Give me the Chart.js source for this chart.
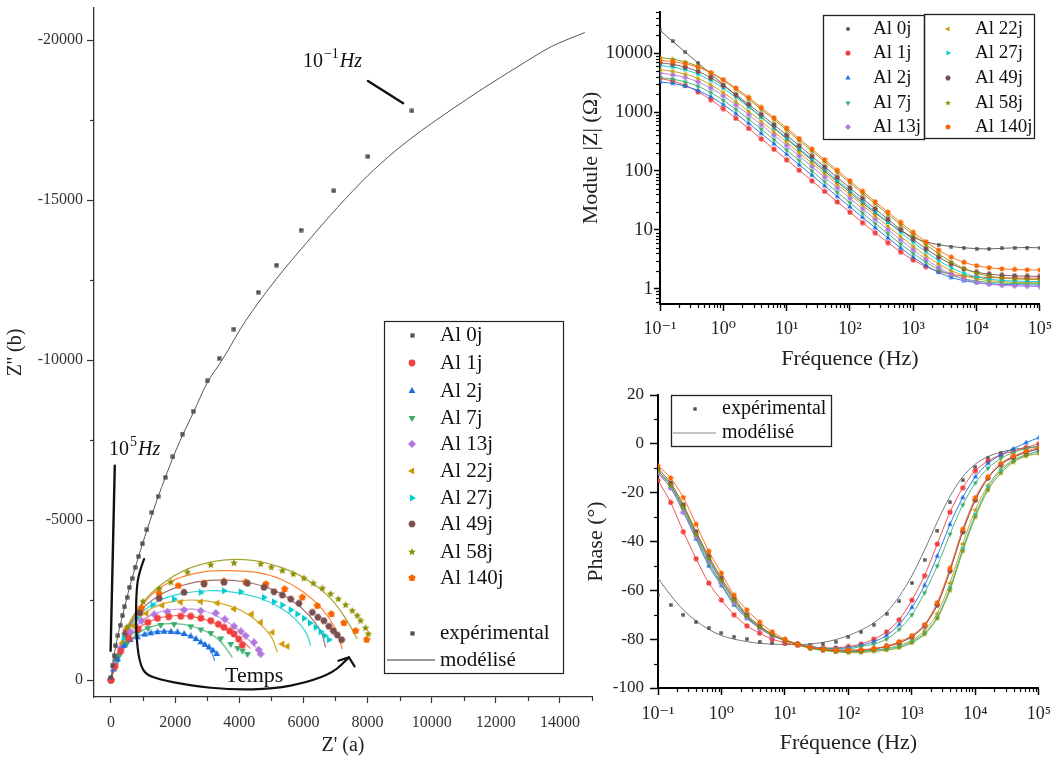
<!DOCTYPE html>
<html>
<head>
<meta charset="utf-8">
<script src="https://cdn.jsdelivr.net/npm/chart.js@4.4.0/dist/chart.umd.min.js"></script>
<style>
html,body{margin:0;padding:0;background:#fff;}
#wrap{position:relative;width:1059px;height:760px;overflow:hidden;background:#fff;}
canvas{position:absolute;}
#nyq{left:0;top:0;}
#mod{left:580px;top:0;}
#pha{left:580px;top:380px;}
</style>
</head>
<body>
<div id="wrap">
  <canvas id="nyq" width="600" height="760"></canvas>
  <canvas id="mod" width="479" height="380"></canvas>
  <canvas id="pha" width="479" height="380"></canvas>
</div>
<script>
/* ====== DATA : Nyquist (Z' , Z'') ====== */
const nyqExp0j = [[0,-84],[47,-447],[97,-759],[143,-1072],[215,-1384],[287,-1718],[358,-2009],[418,-2290],[502,-2584],[573,-2896],[657,-3177],[751,-3521],[860,-3864],[978,-4258],[1122,-4695],[1278,-5239],[1468,-5739],[1695,-6332],[1932,-6976],[2231,-7685],[2564,-8394],[3007,-9350],[3375,-10050],[3830,-10965],[4593,-12112],[5163,-12965],[5927,-14058],[6952,-15286],[8014,-16360],[9385,-17785]];
const nyqFit0j = [[0,0],[97,-760],[215,-1390],[358,-2010],[502,-2590],[657,-3180],[860,-3860],[1122,-4690],[1468,-5720],[1932,-6950],[2231,-7650],[2564,-8350],[3007,-9300],[3484,-10028],[4197,-11225],[5151,-12527],[6107,-13674],[7061,-14767],[8014,-15768],[8849,-16520],[9685,-17172],[10579,-17798],[11592,-18477],[12663,-19152],[13738,-19797],[14776,-20234]];
const nyqExp1j = [[0,0],[120,-420],[300,-900],[550,-1300],[850,-1600],[1150,-1800],[1449,-1927],[1800,-1980],[2175,-1990],[2487,-1990],[2800,-1930],[3110,-1853],[3350,-1740],[3524,-1646],[3700,-1530],[3836,-1437],[3980,-1280],[4097,-1093]];
const nyqFit1j = [[0,0],[120,-420],[300,-900],[600,-1380],[1000,-1720],[1500,-1940],[2000,-2010],[2500,-1990],[3000,-1870],[3500,-1640],[3900,-1350],[4200,-1130],[4350,-980]];
const nyqExp2j = [[0,0],[80,-330],[200,-650],[408,-1072],[600,-1250],[826,-1334],[1050,-1420],[1240,-1459],[1450,-1495],[1655,-1509],[1870,-1505],[2072,-1490],[2280,-1440],[2487,-1365],[2650,-1280],[2798,-1178],[2930,-1100],[3057,-1022],[3180,-920],[3297,-812]];
const nyqFit2j = [[0,0],[100,-380],[300,-850],[600,-1230],[1000,-1430],[1500,-1520],[2000,-1500],[2500,-1360],[2900,-1130],[3100,-930],[3234,-603]];
const nyqExp7j = [[0,0],[100,-380],[250,-750],[500,-1150],[800,-1450],[1150,-1620],[1550,-1720],[1966,-1749],[2487,-1678],[2800,-1580],[3110,-1468],[3420,-1300],[3733,-1125],[3950,-1000],[4100,-920],[4253,-812]];
const nyqFit7j = [[0,0],[100,-380],[300,-820],[600,-1250],[1000,-1560],[1500,-1730],[2000,-1760],[2500,-1690],[3000,-1500],[3400,-1220],[3786,-709]];
const nyqExp13j = [[0,0],[120,-480],[300,-1000],[600,-1500],[950,-1850],[1350,-2050],[1760,-2134],[2278,-2187],[2798,-2165],[3265,-2093],[3550,-1900],[3836,-1678],[4050,-1520],[4200,-1384],[4459,-1178],[4600,-950],[4668,-812]];
const nyqFit13j = [[0,0],[120,-480],[350,-1080],[700,-1600],[1100,-1950],[1600,-2150],[2200,-2220],[2800,-2180],[3300,-2000],[3800,-1700],[4200,-1350],[4512,-1022]];
const nyqExp22j = [[0,0],[130,-520],[350,-1150],[700,-1700],[1100,-2080],[1600,-2330],[2175,-2427],[2798,-2446],[3318,-2405],[3836,-2218],[4387,-2062],[4668,-1802],[5032,-1490],[5344,-1125],[5500,-1053]];
const nyqFit22j = [[0,0],[130,-520],[400,-1250],[800,-1850],[1300,-2250],[1900,-2450],[2600,-2500],[3300,-2420],[4000,-2200],[4600,-1800],[5000,-1350],[5188,-865]];
const nyqExp27j = [[0,0],[140,-560],[400,-1300],[800,-1950],[1300,-2350],[1966,-2530],[2798,-2740],[3524,-2790],[4045,-2759],[4771,-2583],[5082,-2446],[5344,-2343],[5603,-2196],[5811,-2062],[6017,-1928],[6204,-1781],[6382,-1646],[6537,-1509],[6671,-1384],[6796,-1259]];
const nyqFit27j = [[0,0],[140,-560],[450,-1400],[900,-2050],[1500,-2480],[2200,-2700],[3000,-2790],[3800,-2750],[4600,-2570],[5300,-2250],[5800,-1850],[6100,-1450],[6226,-1072]];
const nyqExp49j = [[0,0],[150,-600],[450,-1450],[900,-2100],[1500,-2550],[2278,-2740],[2901,-2999],[3524,-3052],[4253,-3021],[4771,-2896],[5082,-2759],[5344,-2655],[5603,-2530],[5862,-2396],[6279,-2115],[6453,-1959],[6640,-1853],[6796,-1678],[6933,-1540],[7058,-1406],[7192,-1259]];
const nyqFit49j = [[0,0],[150,-600],[500,-1550],[1000,-2250],[1700,-2750],[2500,-3030],[3300,-3120],[4100,-3080],[4900,-2880],[5600,-2520],[6200,-2000],[6550,-1500],[6693,-1022]];
const nyqExp58j = [[0,0],[170,-700],[500,-1650],[1000,-2450],[1500,-2850],[1863,-3052],[2384,-3365],[3110,-3593],[3836,-3655],[4668,-3624],[5001,-3521],[5344,-3415],[5687,-3311],[6017,-3177],[6310,-3021],[6590,-2865],[6849,-2687],[7089,-2530],[7316,-2343],[7525,-2165],[7681,-2009],[7784,-1853],[7940,-1624],[8024,-1437]];
const nyqFit58j = [[0,0],[170,-700],[550,-1750],[1100,-2550],[1800,-3150],[2600,-3550],[3500,-3750],[4400,-3740],[5300,-3520],[6100,-3150],[6800,-2600],[7300,-1950],[7681,-1281]];
const nyqExp140j = [[0,0],[160,-650],[480,-1550],[950,-2250],[1500,-2700],[2100,-2950],[2901,-3030],[3524,-3083],[4200,-3060],[4830,-3000],[5415,-2843],[5967,-2583],[6434,-2321],[6871,-2062],[7264,-1781],[7628,-1540],[7971,-1259]];
const nyqFit140j = [[0,0],[160,-650],[550,-1700],[1100,-2500],[1800,-3050],[2700,-3350],[3600,-3420],[4500,-3370],[5300,-3150],[6000,-2750],[6600,-2200],[7000,-1600],[7213,-968]];

/* ====== DATA : Bode ====== */
const freqHz = [0.1,0.158,0.251,0.398,0.631,1,1.58,2.51,3.98,6.31,10,15.8,25.1,39.8,63.1,100,158,251,398,631,1000,1580,2510,3980,6310,10000,15800,25100,39800,63100,100000];

const modAl0j = [24300,15910,10410,6818,4463,2921,1912,1252,820,537,351,230,150.5,98.5,65.3,43.1,28.6,19.3,13.4,9.68,7.49,6.25,5.6,5.2,4.95,4.8,4.75,4.85,4.95,5.0,4.95];
const modAl1j = [3733,3355,2828,2216,1629,1145,783,527,352,233.9,155.2,102.8,68.0,44.9,29.87,19.9,13.26,8.91,6.07,4.23,3.08,2.38,1.98,1.76,1.64,1.58,1.545,1.527,1.515,1.51,1.506];
const modAl2j = [3261,3064,2753,2321,1819,1338,940,643,433,289,192,127,84.4,55.8,36.8,24.5,16.3,10.84,7.28,4.94,3.43,2.48,1.90,1.55,1.37,1.27,1.214,1.187,1.168,1.16,1.155];
const modAl7j = [3851,3620,3253,2742,2148,1580,1110,759,511,341,227,150.5,99.6,65.9,43.5,28.9,19.2,12.8,8.56,5.79,3.99,2.84,2.13,1.71,1.475,1.348,1.282,1.247,1.227,1.214,1.208];
const modAl13j = [4580,4305,3869,3262,2556,1879,1321,903,608,406,270,179,118.5,78.4,51.8,34.4,22.8,15.14,10.09,6.77,4.60,3.19,2.31,1.77,1.454,1.282,1.19,1.141,1.115,1.1,1.09];
const modAl22j = [5227,4912,4415,3721,2916,2145,1507,1030,694,463,308,204,135.2,89.5,59.1,39.2,26.3,17.28,11.52,7.73,5.25,3.66,2.64,2.03,1.675,1.478,1.374,1.319,1.29,1.273,1.263];
const modAl27j = [6178,5806,5218,4398,3446,2535,1781,1217,820,548,364,241.5,159.8,105.8,69.8,46.2,30.7,20.35,13.57,9.09,6.15,4.24,3.02,2.27,1.834,1.588,1.456,1.386,1.349,1.329,1.317];
const modAl49j = [6871,6458,5803,4892,3833,2819,1981,1354,912,609,405,268.6,177.8,117.6,77.6,51.5,34.2,22.7,15.14,10.15,6.89,4.79,3.45,2.64,2.165,1.905,1.766,1.692,1.653,1.631,1.619];
const modAl58j = [8403,7898,7098,5983,4688,3447,2423,1656,1115,745,495,328.5,217.4,143.9,95.0,62.9,41.6,27.6,18.36,12.25,8.24,5.61,3.92,2.86,2.21,1.839,1.636,1.529,1.473,1.442,1.425];
const modAl140j = [7518,7180,6609,5769,4678,3557,2553,1767,1197,802,535,354.9,235,155.6,102.7,68.0,45.1,30.0,20.0,13.4,9.09,6.30,4.53,3.44,2.81,2.46,2.27,2.173,2.12,2.092,2.075];

const phaseAl0j = [-62,-66,-70,-73,-75.5,-77.5,-79,-80,-81,-81.5,-82,-82.3,-82.3,-82,-81,-79,-77,-74,-69.5,-64.5,-57,-47.5,-35.5,-24,-15,-9.5,-5.8,-3.8,-2.6,-1.8,-1.3];
const phaseFitAl0j = [-55,-62,-68,-72.5,-76,-78.5,-80,-81,-81.7,-82,-82.2,-82.2,-82,-81.3,-80.2,-78.5,-76.3,-73.3,-69,-62.5,-54,-43.5,-32,-21.5,-13.5,-8.3,-5.2,-3.4,-2.3,-1.6,-1.2];
const phaseAl1j = [-15,-24,-36,-47,-57,-64,-70,-74.5,-77.5,-80,-81.5,-82.5,-83.2,-83.6,-83.6,-83,-82,-80,-77,-72,-64,-54,-41,-28,-18,-11,-7,-4.5,-3,-1.5,0];
const phaseAl2j = [-12,-18,-28,-39,-50,-58,-66,-71.5,-75.5,-78.5,-80.5,-82,-83,-83.6,-83.8,-83.5,-82.5,-81,-78.5,-74,-67,-58,-46,-33,-22,-13.5,-8,-4.5,-2,0.5,2.5];
const phaseAl7j = [-11,-17,-27,-38,-49,-57.5,-65.5,-71,-75.5,-78.5,-80.5,-82,-83,-83.7,-84,-84,-83,-82,-80,-76,-70,-61,-50,-37,-25,-16,-10,-6,-3.5,-2,-1];
const phaseAl13j = [-12,-18,-28,-38,-48,-57,-65,-71,-75.5,-78.5,-80.5,-82,-83.2,-84,-84.5,-84.5,-84.5,-84,-83,-81.5,-79,-74.5,-66,-52,-36,-23,-14,-8.5,-5.5,-3.5,-2];
const phaseAl22j = [-11,-17,-26,-37,-47,-56,-64,-70.5,-75,-78,-80.5,-82,-83.5,-84.3,-84.8,-85,-85,-84.5,-83.8,-82.5,-80.5,-76.5,-69.5,-57,-41,-27,-17,-10.5,-6.5,-4.5,-3];
const phaseAl27j = [-11,-17,-26,-37,-47,-56,-64,-70.5,-75,-78,-80.5,-82,-83.5,-84.3,-84.8,-85,-85,-84.5,-84,-83,-81,-77.5,-71,-59,-43,-29,-18,-11,-7,-4.5,-3];
const phaseAl49j = [-10,-16,-25,-36,-46,-55,-63,-70,-74.5,-78,-80.5,-82,-83.5,-84.3,-84.7,-84.8,-84.7,-84,-83,-81.5,-79,-74.5,-66,-52,-36,-23,-14,-8.5,-5.5,-3.5,-2];
const phaseAl58j = [-11,-17,-26,-37,-47,-56,-64,-70.5,-75,-78,-80.5,-82.3,-83.8,-84.6,-85.2,-85.5,-85.5,-85,-84.5,-83.5,-81.5,-78,-71.5,-60,-44,-30,-19,-12,-7.5,-5,-4];
const phaseAl140j = [-9,-14,-22,-33,-44,-53,-62,-68,-73,-77,-80,-82,-83.3,-84,-84.5,-84.5,-84.3,-83.8,-82.8,-81,-78.5,-74,-65,-51,-35,-22,-13.5,-8,-5,-3,-1.5];

/* ====== TICKS ====== */
const nyqXTicks = [0,2000,4000,6000,8000,10000,12000,14000];
const nyqXMinor = [1000,3000,5000,7000,9000,11000,13000,15000];
const nyqYTicks = [0,-5000,-10000,-15000,-20000];
const nyqYMinor = [-2500,-7500,-12500,-17500];
const freqTicks = [0.1,1,10,100,1000,10000,100000];
const freqTickLabels = ["10\u207B\u00B9","10\u2070","10\u00B9","10\u00B2","10\u00B3","10\u2074","10\u2075"];
const modYTicks = [1,10,100,1000,10000];
const phaseYTicks = [20,0,-20,-40,-60,-80,-100];
const phaseYMinor = [10,-10,-30,-50,-70,-90];

/* ====== STYLE ====== */
const SERIF = "'Liberation Serif','DejaVu Serif',serif";
const NAMES  = ["Al 0j","Al 1j","Al 2j","Al 7j","Al 13j","Al 22j","Al 27j","Al 49j","Al 58j","Al 140j"];
const COLORS = ["#515151","#F14040","#1A6FDF","#37AD6B","#B177DE","#CC9900","#00CBCC","#7D4E4E","#8E8E00","#FB6501"];
const SHAPES = ["square","circle","up","down","diamond","left","right","hexagon","star","pentagon"];

function rgba(hex, a){
  const n = parseInt(hex.slice(1), 16);
  return `rgba(${n>>16},${(n>>8)&255},${n&255},${a})`;
}
function marker(shape, color, size){
  const c = document.createElement("canvas"); c.width = c.height = size;
  const g = c.getContext("2d"); const r = size/2;
  g.translate(r, r); g.fillStyle = color; g.beginPath();
  const poly = (n, rot, rr) => {
    for (let k=0;k<n;k++){ const a = rot + k*2*Math.PI/n; k ? g.lineTo(rr*Math.cos(a), rr*Math.sin(a)) : g.moveTo(rr*Math.cos(a), rr*Math.sin(a)); }
    g.closePath();
  };
  switch(shape){
    case "square":  g.rect(-r*0.85,-r*0.85,r*1.7,r*1.7); break;
    case "circle":  g.arc(0,0,r*0.85,0,2*Math.PI); break;
    case "up":      poly(3,-Math.PI/2,r); break;
    case "down":    poly(3, Math.PI/2,r); break;
    case "left":    poly(3, Math.PI,r); break;
    case "right":   poly(3, 0,r); break;
    case "diamond": poly(4,-Math.PI/2,r); break;
    case "hexagon": poly(6,0,r*0.92); break;
    case "pentagon":poly(5,-Math.PI/2,r*0.95); break;
    case "star":
      for (let k=0;k<10;k++){ const a = -Math.PI/2 + k*Math.PI/5, rr = k%2 ? r*0.45 : r; k ? g.lineTo(rr*Math.cos(a), rr*Math.sin(a)) : g.moveTo(rr*Math.cos(a), rr*Math.sin(a)); }
      g.closePath(); break;
  }
  g.fill();
  return c;
}

/* ====== PLUGINS ====== */
function minorTicks(id, axes){
  return { id, afterDraw(chart){
    const ctx = chart.ctx; ctx.save();
    axes.forEach(a => {
      const sc = chart.scales[a.id];
      ctx.strokeStyle = a.color; ctx.lineWidth = a.width;
      a.values.forEach(v => {
        if (v < sc.min || v > sc.max) return;
        const p = Math.round(sc.getPixelForValue(v)) + 0.5;
        ctx.beginPath();
        if (sc.isHorizontal()){ ctx.moveTo(p, sc.top); ctx.lineTo(p, sc.top + a.len); }
        else { ctx.moveTo(sc.right, p); ctx.lineTo(sc.right - a.len, p); }
        ctx.stroke();
      });
    });
    ctx.restore();
  }};
}
function boxLegend(id, cfg){
  return { id, afterDraw(chart){
    const ctx = chart.ctx; ctx.save();
    ctx.strokeStyle = "#222"; ctx.lineWidth = cfg.lineWidth;
    cfg.boxes.forEach(b => ctx.strokeRect(b[0]+0.5, b[1]+0.5, b[2], b[3]));
    ctx.font = cfg.font; ctx.textBaseline = "middle"; ctx.textAlign = "left";
    cfg.items.forEach(it => {
      if (it.line){ ctx.strokeStyle = it.line; ctx.lineWidth = 1; ctx.beginPath(); ctx.moveTo(it.lx[0], it.y); ctx.lineTo(it.lx[1], it.y); ctx.stroke(); }
      else ctx.drawImage(it.img, Math.round(it.mx - it.img.width/2), Math.round(it.y - it.img.height/2));
      ctx.fillStyle = "#111"; ctx.fillText(it.text, it.tx, it.y);
    });
    ctx.restore();
  }};
}

/* Nyquist annotations, placed in data units */
const lead01Hz  = [[8014,-18722],[9111,-18025]];
const lead1e5Hz = [[118,-6695],[-12,-915]];
const label01Hz  = [5986,-19141];
const label1e5Hz = [-59,-7029];
const tempsAt = [4465,-134];
const tempsArrow = [[1031,-3780],[876,-3365],[795,-2843],[773,-1802],[826,-968],[929,-447],[1084,-187],[1449,-31],[2487,178],[3733,303],[5082,281],[6123,72],[6952,-241],[7420,-709]];
const tempsHead = [[7090,-603],[7420,-709],[7597,-428]];

const nyqNotes = { id:"nyqNotes", afterDatasetsDraw(chart){
  const {ctx, scales:{x, y}} = chart;
  const P = p => [x.getPixelForValue(p[0]), y.getPixelForValue(p[1])];
  ctx.save();
  ctx.strokeStyle = "#111"; ctx.lineWidth = 2.4; ctx.lineCap = "round"; ctx.lineJoin = "round";
  [lead01Hz, lead1e5Hz].forEach(s => { const a = P(s[0]), b = P(s[1]); ctx.beginPath(); ctx.moveTo(a[0],a[1]); ctx.lineTo(b[0],b[1]); ctx.stroke(); });
  const pts = tempsArrow.map(P);
  ctx.lineWidth = 2.2; ctx.beginPath(); ctx.moveTo(pts[0][0], pts[0][1]);
  for (let i=1;i<pts.length-1;i++){ ctx.quadraticCurveTo(pts[i][0], pts[i][1], (pts[i][0]+pts[i+1][0])/2, (pts[i][1]+pts[i+1][1])/2); }
  ctx.lineTo(pts[pts.length-1][0], pts[pts.length-1][1]); ctx.stroke();
  const hd = tempsHead.map(P);
  ctx.beginPath(); ctx.moveTo(hd[0][0],hd[0][1]); ctx.lineTo(hd[1][0],hd[1][1]); ctx.lineTo(hd[2][0],hd[2][1]); ctx.stroke();
  ctx.fillStyle = "#111"; ctx.textBaseline = "alphabetic"; ctx.textAlign = "left";
  const hz = (p, sup) => {
    let [px, py] = P(p);
    ctx.font = "20px " + SERIF; ctx.fillText("10", px, py); px += ctx.measureText("10").width + 1;
    ctx.font = "14px " + SERIF; ctx.fillText(sup, px, py - 9); px += ctx.measureText(sup).width + 1;
    ctx.font = "italic 20px " + SERIF; ctx.fillText("Hz", px, py);
  };
  hz(label01Hz, "\u22121"); hz(label1e5Hz, "5");
  ctx.font = "22px " + SERIF; ctx.textAlign = "center"; ctx.textBaseline = "middle";
  const t = P(tempsAt); ctx.fillText("Temps", t[0], t[1]);
  ctx.restore();
}};

/* ====== BUILD ====== */
Chart.defaults.font.family = SERIF;
const xy  = a => a.map(p => ({x:p[0], y:p[1]}));
const fxy = v => freqHz.map((f,i) => ({x:f, y:v[i]}));
const base = {
  responsive:false, animation:false, events:[],
  plugins:{legend:{display:false}, tooltip:{enabled:false}}
};
const noVPad = s => { s.paddingTop = 0; s.paddingBottom = 0; };

// Nyquist
const nyqExp = [nyqExp0j,nyqExp1j,nyqExp2j,nyqExp7j,nyqExp13j,nyqExp22j,nyqExp27j,nyqExp49j,nyqExp58j,nyqExp140j];
const nyqFit = [nyqFit0j,nyqFit1j,nyqFit2j,nyqFit7j,nyqFit13j,nyqFit22j,nyqFit27j,nyqFit49j,nyqFit58j,nyqFit140j];
const nyqMarks = NAMES.map((n,i) => marker(SHAPES[i], COLORS[i], i ? 8 : 5));
const nyqSets = [];
NAMES.forEach((n,i) => {
  nyqSets.push({label:n, data:xy(nyqExp[i]), showLine:false, pointStyle:nyqMarks[i], pointRadius:3, order:0});
  nyqSets.push({label:n+" fit", data:xy(nyqFit[i]), showLine:true, pointRadius:0, borderColor: i ? rgba(COLORS[i],0.8) : "#555", borderWidth: i ? 1.2 : 1, tension: i ? 0.4 : 0.3, order:1});
});
const nyqLegendItems = NAMES.map((n,i) => ({img:nyqMarks[i], mx:412, tx:440, y:[335,363,391,418,444,471,498,524,552,578][i], text:n}));
nyqLegendItems.push({img:marker("square",COLORS[0],5), mx:412, tx:440, y:633, text:"exp\u00E9rimental"});
nyqLegendItems.push({line:"#333", lx:[387,435], tx:440, y:660, text:"mod\u00E9lis\u00E9"});

new Chart(document.getElementById("nyq"), {
  type:"scatter",
  data:{datasets:nyqSets},
  options:{...base,
    layout:{padding:{left:0,right:8,top:8,bottom:0}, autoPadding:false},
    scales:{
      x:{type:"linear", position:"bottom", min:-530, max:15000, bounds:"data",
        afterBuildTicks: s => { s.ticks = nyqXTicks.map(v => ({value:v})); },
        afterFit: s => { s.height = 63; },
        grid:{drawOnChartArea:false, color:"#333", tickLength:6, tickWidth:1.2},
        border:{color:"#333", width:1.3},
        ticks:{font:{size:16}, color:"#333", padding:10, maxRotation:0, autoSkip:false, callback: v => String(v)},
        title:{display:true, text:"Z' (a)", font:{size:20}, color:"#222", padding:{top:0,bottom:2}}},
      y:{type:"linear", position:"left", min:-21000, max:530, reverse:true, bounds:"data",
        afterBuildTicks: s => { s.ticks = nyqYTicks.map(v => ({value:v})); },
        afterFit: s => { s.width = 94; noVPad(s); },
        grid:{drawOnChartArea:false, color:"#333", tickLength:7, tickWidth:1.2},
        border:{color:"#333", width:1.3},
        ticks:{font:{size:16}, color:"#333", padding:4, autoSkip:false, callback: v => String(v)},
        title:{display:true, text:"Z'' (b)", font:{size:20}, color:"#222", padding:{top:4,bottom:0}}}
    }
  },
  plugins:[
    minorTicks("nyqMinor", [{id:"x", values:nyqXMinor, len:4, color:"#333", width:1.2},{id:"y", values:nyqYMinor, len:4, color:"#333", width:1.2}]),
    nyqNotes,
    boxLegend("nyqLegend", {boxes:[[384,321,179,352]], lineWidth:1.2, font:"21px "+SERIF, items:nyqLegendItems})
  ]
});

// log minor ticks (axis decoration)
function logMinor(e0, e1){ const out = []; for (let e=e0; e<=e1; e++) for (let m=2; m<=9; m++) out.push(m*Math.pow(10,e)); return out; }
const freqMinor = logMinor(-1,4);
const modYMinor = logMinor(-1,4);

function freqAxis(height, pad, title){
  return {type:"logarithmic", position:"bottom", min:0.1, max:100000, bounds:"data",
    afterBuildTicks: s => { s.ticks = freqTicks.map(v => ({value:v})); },
    afterFit: s => { s.height = height; },
    grid:{drawOnChartArea:false, color:"#000", tickLength:7, tickWidth:1.5},
    border:{color:"#000", width:2},
    ticks:{font:{size:18}, color:"#222", padding:pad, maxRotation:0, autoSkip:false,
      callback: v => { const k = freqTicks.findIndex(t => Math.abs(t - v) < t*1e-6); return k < 0 ? "" : freqTickLabels[k]; }},
    title:{display:true, text:"Fr\u00E9quence (Hz)", font:{size:22}, color:"#222", padding:title}};
}

// Module |Z|
const modArrs = [modAl0j,modAl1j,modAl2j,modAl7j,modAl13j,modAl22j,modAl27j,modAl49j,modAl58j,modAl140j];
const bodeMarks = NAMES.map((n,i) => marker(SHAPES[i], COLORS[i], i ? 6 : 4));
const modSets = NAMES.map((n,i) => ({label:n, data:fxy(modArrs[i]), showLine:true, borderColor:rgba(COLORS[i],0.9), borderWidth:1, tension:0.3, pointStyle:bodeMarks[i], pointRadius:3, order:10-i}));
const modLegendItems = NAMES.map((n,i) => ({img:bodeMarks[i], mx: i<5 ? 268 : 368, tx: i<5 ? 293 : 395, y:[29,53,78,103,127][i%5], text:n}));

new Chart(document.getElementById("mod"), {
  type:"scatter",
  data:{datasets:modSets},
  options:{...base,
    layout:{padding:{left:0,right:16,top:12,bottom:0}, autoPadding:false},
    scales:{
      x: freqAxis(76, 7, {top:0,bottom:8}),
      y:{type:"logarithmic", position:"left", min:0.55, max:50000, bounds:"data",
        afterBuildTicks: s => { s.ticks = modYTicks.map(v => ({value:v})); },
        afterFit: s => { s.width = 80; noVPad(s); },
        grid:{drawOnChartArea:false, color:"#000", tickLength:6, tickWidth:1.5},
        border:{color:"#000", width:2},
        ticks:{font:{size:19}, color:"#222", padding:1, autoSkip:false, callback: v => String(Math.round(v))},
        title:{display:true, text:"Module |Z| (\u03A9)", font:{size:22, lineHeight:1}, color:"#222", padding:{top:0,bottom:0}}}
    }
  },
  plugins:[
    minorTicks("modMinor", [{id:"x", values:freqMinor, len:4, color:"#000", width:1.2},{id:"y", values:modYMinor, len:4, color:"#000", width:1.2}]),
    boxLegend("modLegend", {boxes:[[243,15,101,124],[344,14,110,124]], lineWidth:1.3, font:"19px "+SERIF, items:modLegendItems})
  ]
});

// Phase
const phaseArrs = [phaseAl0j,phaseAl1j,phaseAl2j,phaseAl7j,phaseAl13j,phaseAl22j,phaseAl27j,phaseAl49j,phaseAl58j,phaseAl140j];
const phaseSets = NAMES.map((n,i) => ({label:n, data:fxy(phaseArrs[i]), showLine: i>0, borderColor:rgba(COLORS[i],0.9), borderWidth:1, tension:0.3, pointStyle:bodeMarks[i], pointRadius:3, order:10-i}));
phaseSets.push({label:"Al 0j fit", data:fxy(phaseFitAl0j), showLine:true, pointRadius:0, borderColor:"#777", borderWidth:1, tension:0.3, order:11});

new Chart(document.getElementById("pha"), {
  type:"scatter",
  data:{datasets:phaseSets},
  options:{...base,
    layout:{padding:{left:0,right:19,top:15,bottom:0}, autoPadding:false},
    scales:{
      x: freqAxis(72, 8, {top:0,bottom:4}),
      y:{type:"linear", position:"left", min:-100, max:20, bounds:"data",
        afterBuildTicks: s => { s.ticks = phaseYTicks.map(v => ({value:v})); },
        afterFit: s => { s.width = 78; noVPad(s); },
        grid:{drawOnChartArea:false, color:"#000", tickLength:8, tickWidth:1.5},
        border:{color:"#000", width:2},
        ticks:{font:{size:17}, color:"#222", padding:6, autoSkip:false, callback: v => String(v)},
        title:{display:true, text:"Phase (\u00B0)", font:{size:22, lineHeight:1}, color:"#222", padding:{top:5,bottom:0}}}
    }
  },
  plugins:[
    minorTicks("phaMinor", [{id:"x", values:freqMinor, len:4, color:"#000", width:1.2},{id:"y", values:phaseYMinor, len:4, color:"#000", width:1.2}]),
    boxLegend("phaLegend", {boxes:[[91,15,160,51]], lineWidth:1.3, font:"20px "+SERIF, items:[
      {img:marker("square",COLORS[0],4), mx:115, tx:142, y:29, text:"exp\u00E9rimental"},
      {line:"#888", lx:[93,136], tx:142, y:53, text:"mod\u00E9lis\u00E9"}
    ]})
  ]
});
</script>
</body>
</html>
